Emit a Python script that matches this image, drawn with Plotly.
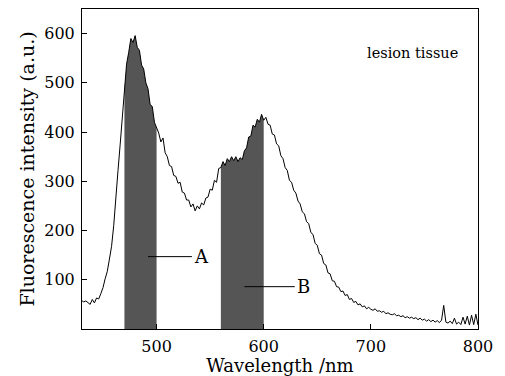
import plotly.graph_objects as go

# Wavelength grid (nm) and fluorescence intensity (a.u.)
wavelength = list(range(430, 802, 2))
intensity = [
    58, 55, 57, 54, 50, 60, 53, 63, 61, 72,            # 430-448
    84, 102, 117, 142, 168, 210, 258, 322, 374, 432,   # 450-468
    488, 538, 562, 590, 582, 596, 572, 566, 536, 528,  # 470-488
    500, 488, 456, 452, 420, 408, 398, 380, 388, 358,  # 490-508
    350, 332, 330, 312, 310, 296, 298, 278, 276, 262,  # 510-528
    262, 248, 254, 240, 250, 244, 256, 252, 266, 268,  # 530-548
    284, 282, 302, 298, 326, 328, 340, 332, 346, 340,  # 550-568
    350, 342, 350, 340, 348, 344, 362, 368, 390, 392,  # 570-588
    414, 410, 426, 420, 436, 424, 430, 416, 414, 396,  # 590-608
    394, 376, 372, 352, 346, 328, 322, 302, 298, 282,  # 610-628
    276, 260, 254, 238, 234, 218, 214, 196, 192, 174,  # 630-648
    170, 153, 150, 133, 130, 114, 112, 98, 97, 86,     # 650-668
    85, 76, 77, 68, 70, 60, 62, 54, 56, 49,            # 670-688
    51, 45, 47, 41, 44, 40, 38, 41, 36, 37,            # 690-708
    34, 36, 31, 33, 30, 29, 31, 27, 28, 25,            # 710-728
    27, 23, 25, 22, 24, 21, 23, 19, 22, 18,            # 730-748
    20, 16, 19, 15, 18, 14, 17, 13, 18, 48,            # 750-768
    14, 12, 16, 11, 22, 10, 14, 9, 24, 10,             # 770-788
    26, 8, 28, 9, 30, 8,                               # 790-800
]

# Shaded integration bands (nm)
bands = [(470, 500), (560, 600)]

# Band labels with leader lines
label_text = ["A", "B"]
label_line_start = [492, 582]
label_line_end = [533, 629]
label_y = [147, 86]

x_ticks = [500, 600, 700, 800]
y_ticks = [100, 200, 300, 400, 500, 600]

FONT = "DejaVu Serif"

fig = go.Figure()

for lo, hi in bands:
    bx = [w for w in wavelength if lo <= w <= hi]
    by = [v for w, v in zip(wavelength, intensity) if lo <= w <= hi]
    fig.add_trace(go.Scatter(x=bx, y=by, mode="lines", fill="tozeroy",
                             fillcolor="#555555", line=dict(width=0, color="#555555"),
                             hoverinfo="skip", showlegend=False))

fig.add_trace(go.Scatter(x=wavelength, y=intensity, mode="lines",
                         line=dict(color="black", width=1), showlegend=False))

for t, x0, x1, y in zip(label_text, label_line_start, label_line_end, label_y):
    fig.add_shape(type="line", x0=x0, x1=x1, y0=y, y1=y, xref="x", yref="y",
                  line=dict(color="black", width=1))
    fig.add_annotation(x=x1, y=y, text=t, showarrow=False, xanchor="left",
                       yanchor="middle", xshift=0,
                       font=dict(family=FONT, size=18, color="black"))

fig.add_annotation(x=1.0, y=0.8625, xref="paper", yref="paper",
                   text="lesion tissue", showarrow=False, xanchor="right",
                   yanchor="middle", xshift=-18,
                   font=dict(family=FONT, size=14.5, color="black"))

axis_common = dict(showgrid=False, zeroline=False, showline=True, linecolor="black",
                   linewidth=1, mirror=True, ticks="inside", ticklen=5,
                   tickcolor="black", tickfont=dict(family=FONT, size=16, color="black"))

fig.update_xaxes(range=[430.4, 800], tickvals=x_ticks, ticklabelstandoff=3,
                 title=dict(text="Wavelength /nm", standoff=0,
                            font=dict(family=FONT, size=18, color="black")),
                 **axis_common)
fig.update_yaxes(range=[0, 650], tickvals=y_ticks, ticklabelstandoff=3,
                 title=dict(text="Fluorescence intensity (a.u.)", standoff=4,
                            font=dict(family=FONT, size=19, color="black")),
                 **axis_common)

# page body has an 8px margin, so the figure is sized to end at the window edge
fig.update_layout(width=497, height=368, margin=dict(l=74, r=27, t=1, b=47),
                  plot_bgcolor="white", paper_bgcolor="white")

fig.write_html("out.html")
